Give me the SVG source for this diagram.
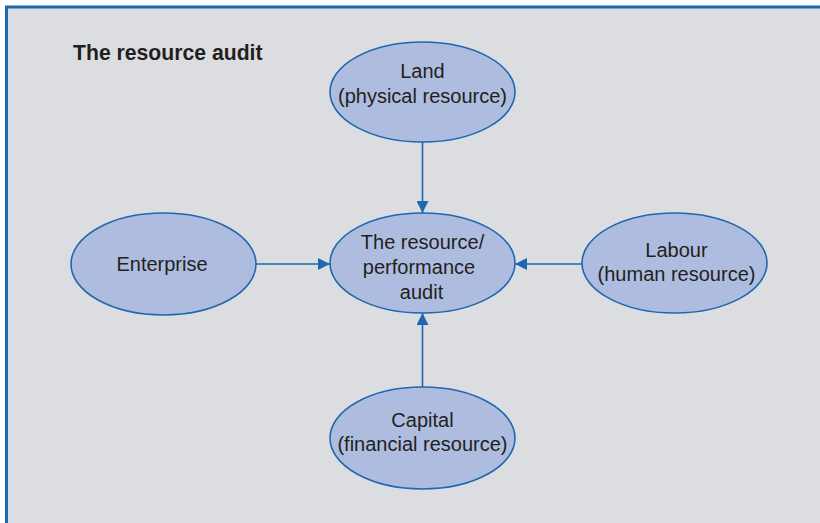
<svg xmlns="http://www.w3.org/2000/svg" width="820" height="523" viewBox="0 0 820 523">
<defs>
<style>
.node ellipse{fill:#aebddf;stroke:#1f67b1;stroke-width:1.6}
.lbl{font-family:"Liberation Sans",Arial,sans-serif;font-size:20px;fill:#231f20;text-anchor:middle}
.title{font-family:"Liberation Sans",Arial,sans-serif;font-size:21.2px;font-weight:bold;fill:#231f20}
.conn line{stroke:#1f67b1;stroke-width:1.6;fill:none}
</style>
<marker id="ah" viewBox="0 0 10 10" refX="10" refY="5" markerWidth="12" markerHeight="12" markerUnits="userSpaceOnUse" orient="auto">
<path d="M0,0 L10,5 L0,10 Z" fill="#1f67b1"/>
</marker>
</defs>
<rect x="0" y="0" width="820" height="523" fill="#ffffff"/>
<rect x="6.5" y="7" width="820" height="520" fill="#dcdde0" stroke="#1f67b1" stroke-width="3"/>
<text class="title" x="73" y="60">The resource audit</text>
<g class="conn">
<line x1="422.5" y1="142" x2="422.5" y2="213" marker-end="url(#ah)"/>
<line x1="422.5" y1="387" x2="422.5" y2="313" marker-end="url(#ah)"/>
<line x1="256" y1="264" x2="330" y2="264" marker-end="url(#ah)"/>
<line x1="582" y1="264" x2="515" y2="264" marker-end="url(#ah)"/>
</g>
<g id="land" class="node">
<ellipse cx="422.5" cy="92" rx="92.5" ry="50"/>
<text class="lbl" x="422.5" y="78">Land</text>
<text class="lbl" x="422.5" y="103">(physical resource)</text>
</g>
<g id="audit" class="node">
<ellipse cx="422.5" cy="263" rx="92.5" ry="50"/>
<text class="lbl" x="422.5" y="249">The resource/</text>
<text class="lbl" x="419" y="274">performance</text>
<text class="lbl" x="421.5" y="299">audit</text>
</g>
<g id="enterprise" class="node">
<ellipse cx="163.5" cy="264" rx="92.5" ry="51"/>
<text class="lbl" x="162" y="271">Enterprise</text>
</g>
<g id="labour" class="node">
<ellipse cx="674.5" cy="263" rx="92.5" ry="50"/>
<text class="lbl" x="676.5" y="257">Labour</text>
<text class="lbl" x="676.5" y="281">(human resource)</text>
</g>
<g id="capital" class="node">
<ellipse cx="422.5" cy="438" rx="92.5" ry="51"/>
<text class="lbl" x="422.5" y="427">Capital</text>
<text class="lbl" x="422.5" y="451">(financial resource)</text>
</g>
</svg>
